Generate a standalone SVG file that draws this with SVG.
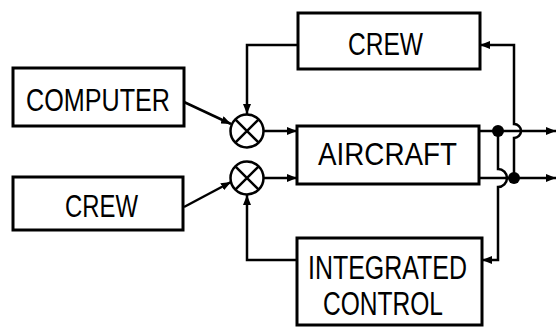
<svg xmlns="http://www.w3.org/2000/svg" width="560" height="327" viewBox="0 0 560 327">
<style>
.box{fill:#fff;stroke:#000;stroke-width:3}
.ln{fill:none;stroke:#000;stroke-width:2.5}
.sum{fill:#fff;stroke:#000;stroke-width:2.5}
.t{font-family:"Liberation Sans",Arial,sans-serif;fill:#000}
</style>
<defs>
<marker id="ah" viewBox="0 0 10 8" refX="10" refY="4" markerWidth="10" markerHeight="8" markerUnits="userSpaceOnUse" orient="auto">
<path d="M0,0 L10,4 L0,8 Z" fill="#000"/>
</marker>
</defs>
<rect width="560" height="327" fill="#fff"/>
<g id="connectors">
<path class="ln" d="M184,102 L231,124" marker-end="url(#ah)"/>
<path class="ln" d="M184,207 L231,182" marker-end="url(#ah)"/>
<path class="ln" d="M264,131 L297,131" marker-end="url(#ah)"/>
<path class="ln" d="M264,178 L297,178" marker-end="url(#ah)"/>
<path class="ln" d="M298,45 L247,45 L247,114" marker-end="url(#ah)"/>
<path class="ln" d="M297,260 L247,260 L247,195" marker-end="url(#ah)"/>
<path class="ln" d="M479,131 L556,131" marker-end="url(#ah)"/>
<path class="ln" d="M479,178 L556,178" marker-end="url(#ah)"/>
<path class="ln" d="M514,178 L514,138 A7,7 0 0 0 514,124 L514,45 L480,45" marker-end="url(#ah)"/>
<path class="ln" d="M498,131 L498,169 A9,9 0 0 1 498,187 L498,260 L482,260" marker-end="url(#ah)"/>
<circle cx="498" cy="131" r="6" fill="#000"/>
<circle cx="514" cy="178" r="6" fill="#000"/>
</g>
<g id="sum1">
<circle class="sum" cx="247" cy="131" r="16.5"/>
<path class="ln" d="M235.3,119.3 L258.7,142.7 M258.7,119.3 L235.3,142.7"/>
</g>
<g id="sum2">
<circle class="sum" cx="247" cy="178" r="16.5"/>
<path class="ln" d="M235.3,166.3 L258.7,189.7 M258.7,166.3 L235.3,189.7"/>
</g>
<g id="computer">
<rect class="box" x="13" y="68" width="171" height="58"/>
<text class="t" x="26" y="111" font-size="31" textLength="144" lengthAdjust="spacingAndGlyphs">COMPUTER</text>
</g>
<g id="crew-top">
<rect class="box" x="298" y="13" width="182" height="56"/>
<text class="t" x="348" y="55" font-size="31" textLength="75" lengthAdjust="spacingAndGlyphs">CREW</text>
</g>
<g id="aircraft">
<rect class="box" x="297" y="126" width="182" height="58"/>
<text class="t" x="318" y="165" font-size="31" textLength="139" lengthAdjust="spacingAndGlyphs">AIRCRAFT</text>
</g>
<g id="crew-bottom">
<rect class="box" x="13" y="177" width="170" height="53"/>
<text class="t" x="65" y="217" font-size="31" textLength="73" lengthAdjust="spacingAndGlyphs">CREW</text>
</g>
<g id="integrated">
<rect class="box" x="297" y="238" width="185" height="87"/>
<text class="t" x="308" y="279" font-size="33" textLength="159" lengthAdjust="spacingAndGlyphs">INTEGRATED</text>
<text class="t" x="323" y="315" font-size="33" textLength="120" lengthAdjust="spacingAndGlyphs">CONTROL</text>
</g>
</svg>
